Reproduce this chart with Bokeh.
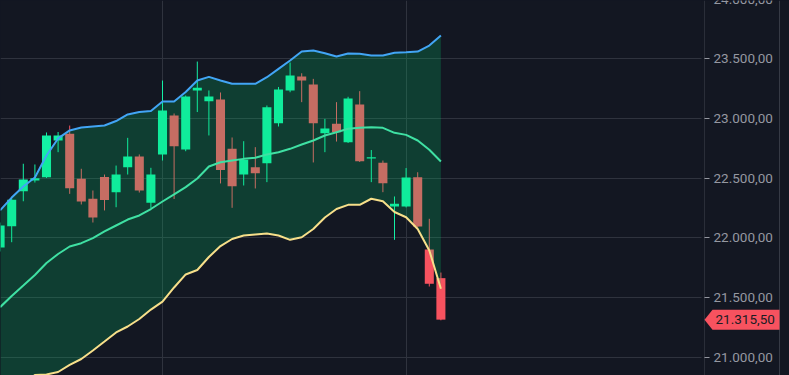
from bokeh.plotting import figure
from bokeh.models import (Range1d, FixedTicker, Grid, Label, PolyAnnotation, BoxAnnotation,
                          Span, ColumnDataSource)
from bokeh.embed import file_html
from bokeh.resources import INLINE

# ---- data ----
opens  = [21920, 22098, 22391, 22481, 22508, 22816, 22872, 22495, 22328, 22510,
          22383, 22592, 22682, 22294, 22699, 23025, 22740, 23235, 23145, 23159,
          22746, 22531, 22592, 22626, 22961, 23235, 23352, 23285, 22877, 22956,
          22802, 23117, 22665, 22629, 22263, 22263, 22508, 21903, 21663]
highs  = [22129, 22330, 22621, 22615, 22883, 22887, 22941, 22579, 22397, 22531,
          22606, 22838, 22699, 22587, 23318, 23042, 23193, 23477, 23235, 23218,
          22841, 22810, 22760, 23109, 23264, 23469, 23379, 23332, 22997, 23137,
          23182, 23229, 22736, 22648, 22347, 22585, 22550, 22160, 21710]
lows   = [21886, 21964, 22307, 22464, 22502, 22718, 22369, 22280, 22129, 22230,
          22257, 22531, 22380, 22250, 22648, 22326, 22726, 23054, 22858, 22456,
          22252, 22439, 22414, 22467, 22933, 23220, 23137, 22632, 22718, 22807,
          22795, 22636, 22467, 22383, 21984, 22255, 22087, 21593, 21310]
closes = [22104, 22319, 22489, 22500, 22858, 22858, 22416, 22305, 22171, 22318,
          22531, 22682, 22397, 22531, 23067, 22768, 23184, 23257, 23184, 22569,
          22433, 22654, 22542, 23095, 23243, 23360, 23318, 22961, 22916, 22885,
          23168, 22642, 22676, 22458, 22286, 22506, 22096, 21616, 21315.5]

upper  = [22230, 22338, 22431, 22506, 22690, 22833, 22900, 22925, 22933, 22941,
          22979, 23034, 23054, 23063, 23142, 23142, 23222, 23318, 23349, 23318,
          23291, 23291, 23291, 23346, 23416, 23486, 23561, 23570, 23547, 23519,
          23544, 23542, 23528, 23528, 23550, 23555, 23561, 23611, 23695]
middle = [21420, 21514, 21601, 21689, 21790, 21865, 21928, 21956, 21998, 22054,
          22104, 22154, 22188, 22242, 22305, 22364, 22425, 22498, 22598, 22634,
          22648, 22662, 22671, 22699, 22718, 22746, 22782, 22816, 22858, 22885,
          22914, 22922, 22927, 22922, 22880, 22863, 22816, 22738, 22640]
lower  = [20613, 20689, 20772, 20852, 20856, 20877, 20936, 20986, 21057, 21132,
          21208, 21258, 21321, 21400, 21467, 21585, 21694, 21731, 21840, 21932,
          21991, 22020, 22029, 22037, 22020, 21984, 22006, 22075, 22171, 22242,
          22277, 22277, 22328, 22307, 22217, 22173, 22075, 21895, 21574]

tick_values = [21000, 21500, 22000, 22500, 23000, 23500]
tick_labels = ["21.000,00", "21.500,00", "22.000,00", "22.500,00", "23.000,00", "23.500,00"]
top_tick_value = 24000
top_tick_label = "24.000,00"
vertical_marks = [14, 35]
last_price = 21315.5
last_price_label = "21.315,50"

# ---- styling ----
BG = "#131722"
GRID = "#2f333e"
UP = "#14f0a5"
DOWN = "#f7525f"
FILL = "#00da72"
TXT = "#9598a1"
FONT_SIZE = "13.5px"

W, H = 789, 375
Y_LO, Y_HI = 20847.7, 23988.3
BAR_PX = 11.6           # horizontal spacing of candles in pixels
X0_PX = -0.4            # pixel position of the first candle
SCALE_PX = 704          # left edge of the price scale


def px_to_x(px):
    return (px - X0_PX) / BAR_PX


n = len(opens)
idx = list(range(n))
colors = [UP if c >= o else DOWN for o, c in zip(opens, closes)]
src = ColumnDataSource(dict(
    x=idx,
    top=[max(o, c) for o, c in zip(opens, closes)],
    bottom=[min(o, c) for o, c in zip(opens, closes)],
    high=highs, low=lows, color=colors,
    upper=upper, middle=middle, lower=lower,
))

p = figure(width=W, height=H, output_backend="svg", toolbar_location=None,
           x_range=Range1d(px_to_x(0), px_to_x(W)), y_range=Range1d(Y_LO, Y_HI),
           x_axis_location=None, y_axis_location="right",
           min_border_left=0, min_border_right=0, min_border_top=0, min_border_bottom=0,
           background_fill_color=BG, border_fill_color=BG, outline_line_color=None)

for g in p.xgrid:
    g.visible = False
p.add_layout(Grid(dimension=0, ticker=FixedTicker(ticks=vertical_marks),
                  grid_line_color=GRID, grid_line_width=1))

yt = FixedTicker(ticks=tick_values)
ax = p.yaxis[0]
ax.ticker = yt
ax.fixed_location = px_to_x(SCALE_PX)
p.ygrid.ticker = yt
p.ygrid.grid_line_color = GRID
ax.major_label_overrides = dict(zip(tick_values, tick_labels))
ax.major_label_text_color = TXT
ax.major_label_text_font = "Roboto"
ax.major_label_text_font_size = FONT_SIZE
ax.major_tick_out = 5
ax.major_tick_in = 0
ax.major_tick_line_color = TXT
ax.minor_tick_line_color = None
ax.axis_line_color = "#2a2e39"
ax.major_label_standoff = 4

# hide grid lines under the price scale
p.add_layout(BoxAnnotation(left=SCALE_PX - 3, right=W, left_units="screen", right_units="screen",
                           fill_color=BG, fill_alpha=1.0, line_color=None, level="underlay"))
p.add_layout(Span(location=px_to_x(779), dimension="height", line_color="#363a45", line_width=1))

# partially visible top scale label (cut by the top edge)
p.add_layout(Label(x=SCALE_PX + 9, x_units="screen", y=top_tick_value, y_units="data",
                   text=top_tick_label, text_baseline="middle", text_align="left",
                   text_font="Roboto", text_font_size=FONT_SIZE, text_color=TXT))

# candles
p.segment(x0="x", y0="low", x1="x", y1="high", color="color", line_width=1, source=src)
p.vbar(x="x", width=0.78, top="top", bottom="bottom", fill_color="color",
       line_color=None, source=src)

# band fill drawn over the candles
p.varea(x="x", y1="lower", y2="upper", fill_color=FILL, fill_alpha=0.2, source=src)

# band lines
p.line(x="x", y="upper", line_color="#42a5f5", line_width=2, source=src)
p.line(x="x", y="middle", line_color="#3fe0a3", line_width=2, source=src)
p.line(x="x", y="lower", line_color="#f7df8a", line_width=2, source=src)

# last price marker on the price scale
half = 10 * (Y_HI - Y_LO) / H
p.add_layout(PolyAnnotation(
    xs=[SCALE_PX, SCALE_PX + 8, 779, 779, SCALE_PX + 8],
    ys=[last_price, last_price + half, last_price + half, last_price - half, last_price - half],
    xs_units="screen", ys_units="data",
    fill_color=DOWN, fill_alpha=1.0, line_color=None, level="overlay"))
p.add_layout(Label(x=SCALE_PX + 11, x_units="screen", y=last_price, y_units="data",
                   text=last_price_label, text_baseline="middle", text_align="left",
                   text_font="Roboto", text_font_size=FONT_SIZE,
                   text_color="#1a1c24", level="overlay"))

html = file_html(p, INLINE)
html = html.replace("</head>",
                    "<style>html,body{margin:0;padding:0;background:#131722;overflow:hidden}</style></head>", 1)
open("out.html", "w").write(html)
